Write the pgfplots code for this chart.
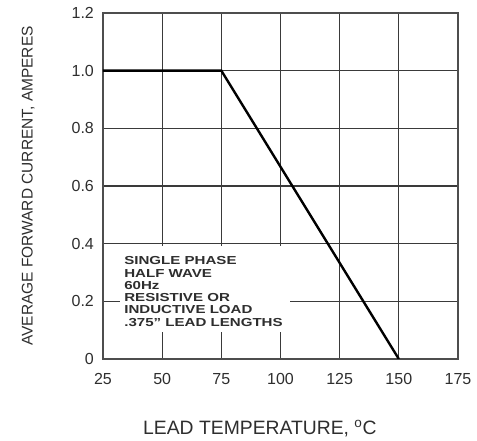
\documentclass[border=0pt]{standalone}
\usepackage{pgfplots}
\pgfplotsset{compat=1.18}
\usepackage{graphicx}
\usepackage{fontspec}
\setmainfont{Liberation Sans}

\definecolor{gridgray}{HTML}{3A3A3A}
\definecolor{txtgray}{HTML}{2E2E2E}

\begin{document}
\begin{tikzpicture}
\useasboundingbox (-77.25pt,-61.5pt) rectangle (280.5pt,269.25pt);
\begin{axis}[
    at={(0,0)}, anchor=south west,
    scale only axis,
    width=266.25pt, height=259.5pt,
    xmin=25, xmax=175, ymin=0, ymax=1.2,
    xtick={25,50,...,175},
    ytick={0,0.2,0.4,0.6,0.8,1.0,1.2},
    yticklabels={0,0.2,0.4,0.6,0.8,1.0,1.2},
    major tick length=0pt,
    grid=major,
    grid style={gridgray, line width=0.8pt},
    axis line style={gridgray!90, line width=0.8pt},
    /pgf/number format/assume math mode=true,
    ticklabel style={font=\fontsize{12}{14}\selectfont, text=txtgray},
    yticklabel style={xshift=-3.3pt},
    xticklabel style={yshift=-7pt},
    xlabel={LEAD TEMPERATURE, \textsuperscript{o}C},
    ylabel={AVERAGE FORWARD CURRENT, AMPERES},
    xlabel style={at={(axis description cs:0.442,-0.2)}, anchor=center,
        font=\fontsize{14.5}{16}\selectfont, text=txtgray},
    ylabel style={at={(axis description cs:-0.211,0.5)}, anchor=center,
        font=\fontsize{11.6}{13}\selectfont, text=txtgray},
]
% note box hides the grid behind the text
\fill[white] (32.2,0.094) rectangle (104,0.393);
\node[anchor=north west, inner sep=0pt, text=txtgray,
      font=\fontsize{8.7}{9.2}\selectfont\bfseries] at (33.9,0.357)
  {\scalebox{1.3}[1]{\begin{tabular}{@{}l@{}}
    SINGLE PHASE\\
    HALF WAVE\\
    60Hz\\
    RESISTIVE OR\\
    INDUCTIVE LOAD\\
    .375" LEAD LENGTHS
  \end{tabular}}};

\addplot[black, line width=1.8pt, mark=none]
  coordinates {(25,1.0) (75,1.0) (150,0)};
\end{axis}
\end{tikzpicture}
\end{document}
